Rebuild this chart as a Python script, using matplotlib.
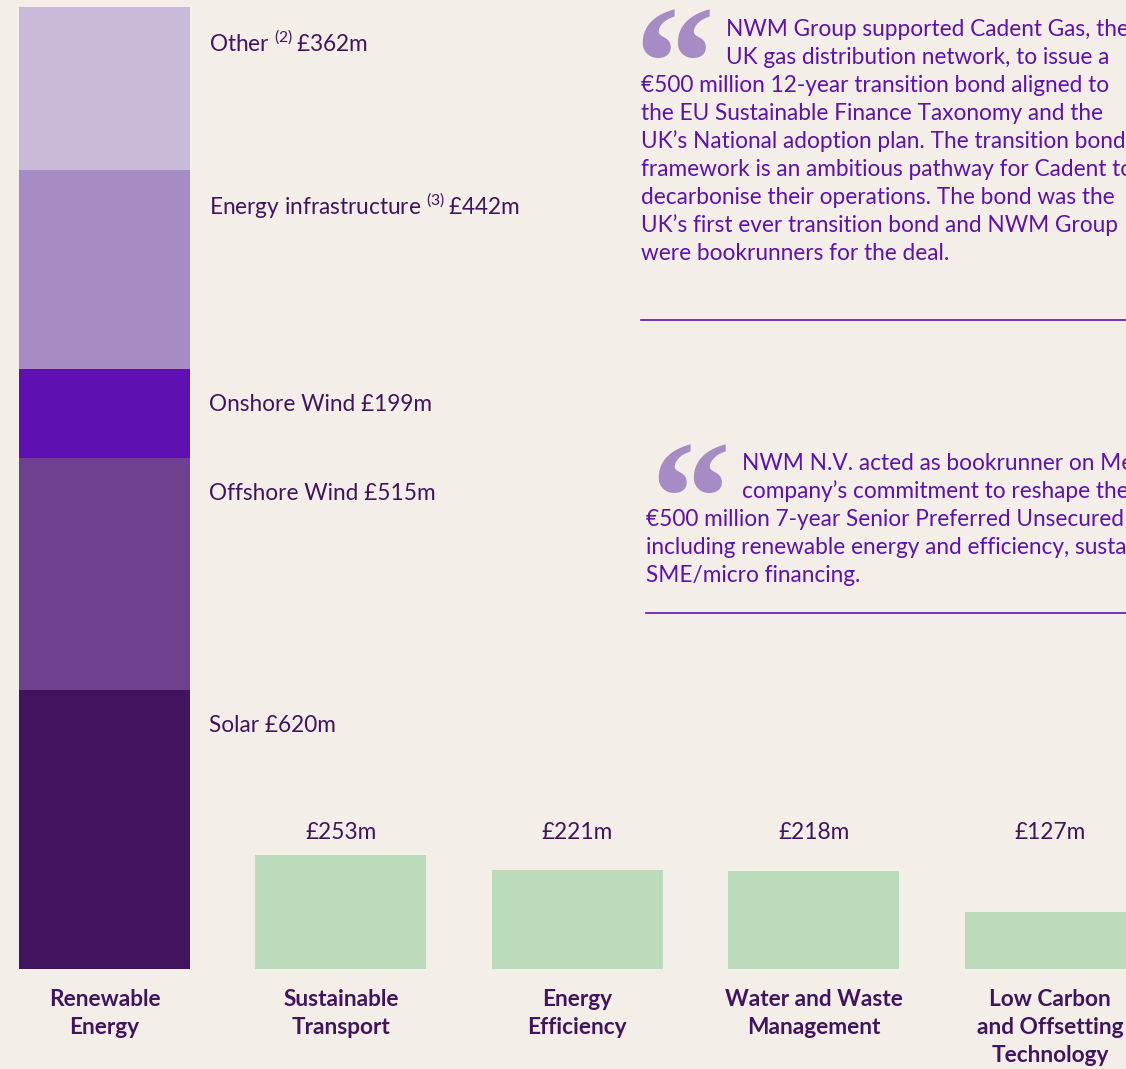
import matplotlib.pyplot as plt
import numpy as np

plt.rcParams['font.family'] = ['Lato', 'DejaVu Sans']
plt.rcParams['mathtext.fontset'] = 'custom'
plt.rcParams['mathtext.rm'] = 'Lato'

# renewable energy breakdown (bottom -> top), £m
re_parts = ['Solar', 'Offshore Wind', 'Onshore Wind', 'Energy infrastructure', 'Other']
re_values = [620, 515, 199, 442, 362]
re_notes = ['', '', '', '(3)', '(2)']
re_colors = ['#42145F', '#6E418F', '#5E10B1', '#A68BC4', '#C9BAD9']

# other categories, £m
categories = ['Renewable\nEnergy', 'Sustainable\nTransport', 'Energy\nEfficiency',
              'Water and Waste\nManagement', 'Low Carbon\nand Offsetting\nTechnology']
other_values = [253, 221, 218, 127]

quote1 = ["NWM Group supported Cadent Gas, the",
          "UK gas distribution network, to issue a",
          "€500 million 12-year transition bond aligned to",
          "the EU Sustainable Finance Taxonomy and the",
          "UK’s National adoption plan. The transition bond",
          "framework is an ambitious pathway for Cadent to",
          "decarbonise their operations. The bond was the",
          "UK’s first ever transition bond and NWM Group",
          "were bookrunners for the deal."]
quote2 = ["NWM N.V. acted as bookrunner on Metro’s",
          "company’s commitment to reshape their",
          "€500 million 7-year Senior Preferred Unsecured bond,",
          "including renewable energy and efficiency, sustainable",
          "SME/micro financing."]

bg = '#F3EFE8'
dark = '#42145F'
purple = '#5E10B1'
lilac = '#A68BC4'
green = '#BCDBBB'
fs = 16.3

W, H = 1126, 1069
fig = plt.figure(figsize=(W / 100, H / 100), dpi=100, facecolor=bg)
ax = fig.add_axes([0, 0, 1, 1])
ax.set_facecolor(bg)
ax.set_xlim(-0.442, 4.321)
ax.set_ylim(-222.2, 2153.6)
ax.axis('off')

x = np.arange(len(categories))
width = 0.723

# stacked renewable bar
bottom = 0
for name, val, note, col in zip(re_parts, re_values, re_notes, re_colors):
    ax.bar(x[0], val, width, bottom=bottom, color=col, linewidth=0)
    top = bottom + val
    if note:
        label = name + r' $^{\mathrm{' + note + r'}}\,$£' + str(val) + 'm'
    else:
        label = name + ' £' + str(val) + 'm'
    ax.annotate(label, xy=(x[0] + width / 2, top), xytext=(13.5, -25.5),
                textcoords='offset points', ha='left', va='center',
                fontsize=fs, color=dark)
    bottom = top

# green bars
ax.bar(x[1:], other_values, width, color=green, linewidth=0)
for xi, v in zip(x[1:], other_values):
    ax.text(xi, 304.5, '£%dm' % v, ha='center', va='center', fontsize=fs, color=dark)

# category names, one line at a time (28 px apart)
for xi, c in zip(x, categories):
    for j, line in enumerate(c.split('\n')):
        ax.annotate(line, xy=(xi, 0), xytext=(0, -(30 + 28 * j) * 0.72),
                    textcoords='offset points', ha='center', va='center',
                    fontsize=fs, fontweight='bold', color=dark)


def fx(px):
    return px / W


def fy(py):
    return 1 - py / H


def quote(lines, x0, x_indent, y0, qx, qy):
    fig.text(fx(qx), fy(qy), '\u201c', fontsize=115, fontweight='bold',
             family='Liberation Serif', color=lilac, ha='left', va='top')
    for i, line in enumerate(lines):
        xx = x_indent if i < 2 else x0
        fig.text(fx(xx), fy(y0 + 28 * i), line, fontsize=fs, color=purple,
                 ha='left', va='center')


quote(quote1, 641, 726, 29, 634, 5)
quote(quote2, 646, 742, 463, 650, 440)

fig.add_artist(plt.Line2D([fx(641), 1], [fy(320), fy(320)], color=purple, lw=1.2))
fig.add_artist(plt.Line2D([fx(646), 1], [fy(613), fy(613)], color=purple, lw=1.2))

fig.savefig('out.png', dpi=100, facecolor=bg)
